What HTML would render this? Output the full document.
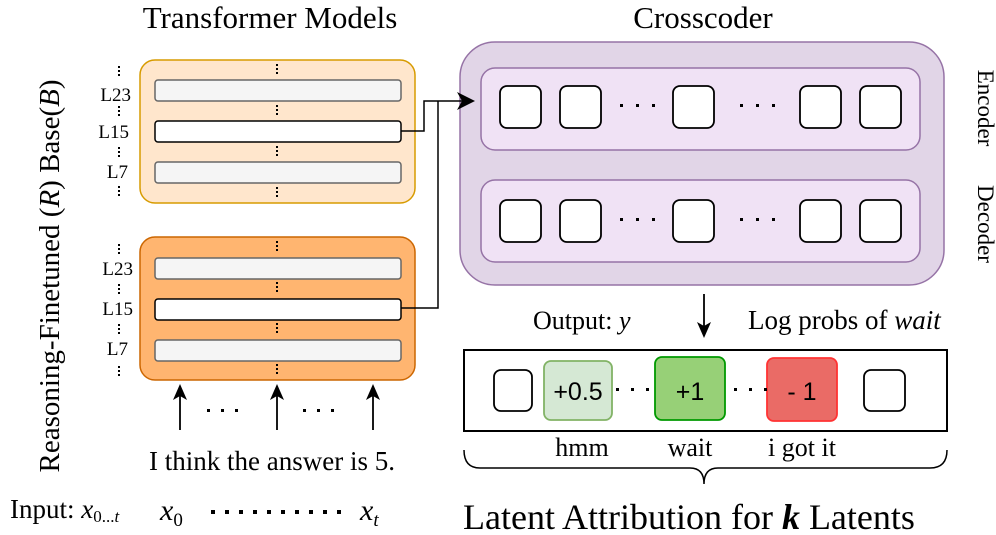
<!DOCTYPE html>
<html><head><style>body{margin:0;background:#fff}svg{display:block}</style></head><body>
<svg width="996" height="535" viewBox="0 0 996 535" xmlns="http://www.w3.org/2000/svg" font-family="Liberation Serif, serif">
<text x="270" y="28" font-size="31" text-anchor="middle">Transformer Models</text>
<text x="703" y="28" font-size="31" text-anchor="middle">Crosscoder</text>
<text transform="translate(59,276) rotate(-90)" font-size="29" text-anchor="middle">Reasoning-Finetuned (<tspan font-style="italic">R</tspan>)   Base(<tspan font-style="italic">B</tspan>)</text>
<!-- base -->
<rect x="140" y="60" width="275" height="143" rx="15" fill="#ffe6cc" stroke="#d79b00" stroke-width="1.5"/>
<rect x="155" y="80" width="246" height="21" rx="3" fill="#f5f5f5" stroke="#666" stroke-width="1.5"/>
<rect x="155" y="121" width="246" height="21" rx="3" fill="#fff" stroke="#000" stroke-width="1.5"/>
<rect x="155" y="162" width="246" height="21" rx="3" fill="#f5f5f5" stroke="#666" stroke-width="1.5"/>
<rect x="140" y="237" width="275" height="143" rx="15" fill="#ffb570" stroke="#cc6600" stroke-width="1.5"/>
<rect x="155" y="258" width="246" height="21" rx="3" fill="#f5f5f5" stroke="#666" stroke-width="1.5"/>
<rect x="155" y="299" width="246" height="21" rx="3" fill="#fff" stroke="#000" stroke-width="1.5"/>
<rect x="155" y="340" width="246" height="21" rx="3" fill="#f5f5f5" stroke="#666" stroke-width="1.5"/>
<g fill="#000">
<defs><g id="vd"><rect x="0" y="0" width="2" height="2"/><rect x="0" y="4" width="2" height="2"/><rect x="0" y="8" width="2" height="2"/></g></defs>
<use href="#vd" x="276" y="64"/><use href="#vd" x="276" y="105"/><use href="#vd" x="276" y="146"/><use href="#vd" x="276" y="187"/>
<use href="#vd" x="276" y="241"/><use href="#vd" x="276" y="282"/><use href="#vd" x="276" y="323"/><use href="#vd" x="276" y="364"/>
<use href="#vd" x="118" y="66"/><use href="#vd" x="118" y="106"/><use href="#vd" x="118" y="147"/><use href="#vd" x="118" y="186"/>
<use href="#vd" x="118" y="244"/><use href="#vd" x="118" y="284"/><use href="#vd" x="118" y="324"/><use href="#vd" x="118" y="366"/>
</g>
<g font-size="19" text-anchor="end">
<text x="131" y="101">L23</text><text x="129" y="138">L15</text><text x="128" y="178">L7</text>
<text x="133" y="275">L23</text><text x="133" y="315">L15</text><text x="128" y="355">L7</text>
</g>
<!-- crosscoder -->
<rect x="460" y="42" width="484" height="243" rx="35" fill="#e1d5e7" stroke="#9673a6" stroke-width="1.5"/>
<rect x="481" y="68" width="439" height="82" rx="14" fill="#f0e2f5" stroke="#9673a6" stroke-width="1.5"/>
<rect x="481" y="180" width="439" height="82" rx="14" fill="#f0e2f5" stroke="#9673a6" stroke-width="1.5"/>
<!-- connectors -->
<polyline points="401,131 424,131 424,101 462,101" fill="none" stroke="#000" stroke-width="1.5"/>
<polyline points="401,308 438,308 438,101" fill="none" stroke="#000" stroke-width="1.5"/>
<polygon points="475,101 457,92 462,101 457,110" fill="#000"/>
<g fill="#fff" stroke="#000" stroke-width="1.8">
<rect x="500" y="86" width="41" height="42" rx="7"/><rect x="560" y="86" width="41" height="42" rx="7"/><rect x="673" y="86" width="41" height="42" rx="7"/><rect x="800" y="86" width="41" height="42" rx="7"/><rect x="860" y="86" width="41" height="42" rx="7"/>
<rect x="500" y="200" width="41" height="42" rx="7"/><rect x="560" y="200" width="41" height="42" rx="7"/><rect x="673" y="200" width="41" height="42" rx="7"/><rect x="800" y="200" width="41" height="42" rx="7"/><rect x="860" y="200" width="41" height="42" rx="7"/>
</g>
<g fill="#000">
<g id="hd"><rect x="620" y="104" width="3" height="3"/><rect x="636" y="104" width="3" height="3"/><rect x="652" y="104" width="3" height="3"/></g>
<use href="#hd" x="120"/><use href="#hd" y="114"/><use href="#hd" x="120" y="114"/>
</g>
<text transform="translate(978,108) rotate(90)" font-size="23" text-anchor="middle">Encoder</text>
<text transform="translate(978,224) rotate(90)" font-size="23" text-anchor="middle">Decoder</text>
<!-- output -->
<line x1="704" y1="294" x2="704" y2="328" stroke="#000" stroke-width="1.8"/>
<polygon points="704,338 697,322 704,326 711,322" fill="#000"/>
<text x="533" y="329" font-size="26">Output: <tspan font-style="italic">y</tspan></text>
<text x="748" y="329" font-size="27">Log probs of <tspan font-style="italic">wait</tspan></text>
<rect x="464" y="350" width="483" height="81" fill="#fff" stroke="#000" stroke-width="2"/>
<rect x="494" y="370" width="38" height="41" rx="7" fill="#fff" stroke="#000" stroke-width="1.8"/>
<rect x="864" y="370" width="41" height="41" rx="7" fill="#fff" stroke="#000" stroke-width="1.8"/>
<rect x="544" y="361" width="68" height="59" rx="7" fill="#d5e8d4" stroke="#82b366" stroke-width="1.8"/>
<rect x="655" y="357" width="70" height="63" rx="7" fill="#97d077" stroke="#009900" stroke-width="1.8"/>
<rect x="767" y="358" width="70" height="63" rx="7" fill="#ea6b66" stroke="#ff3333" stroke-width="1.8"/>
<g fill="#000"><rect x="616" y="388" width="3" height="3"/><rect x="631" y="388" width="3" height="3"/><rect x="646" y="388" width="3" height="3"/>
<rect x="734" y="388" width="3" height="3"/><rect x="749" y="388" width="3" height="3"/><rect x="764" y="388" width="3" height="3"/></g>
<g font-family="Liberation Sans, sans-serif" font-size="25" text-anchor="middle">
<text x="578" y="400">+0.5</text><text x="690" y="400">+1</text><text x="802" y="400">- 1</text></g>
<g font-size="26" text-anchor="middle"><text x="582" y="456">hmm</text><text x="690" y="456">wait</text><text x="802" y="456">i got it</text></g>
<path d="M464,450 Q464,468 480,468 L690,468 Q704,468 704,484 Q704,468 718,468 L930,468 Q947,468 947,450" fill="none" stroke="#000" stroke-width="1.5"/>
<text x="463" y="529" font-size="36">Latent Attribution for <tspan font-style="italic" font-weight="bold">k</tspan> Latents</text>
<!-- input -->
<g stroke="#000" stroke-width="1.8"><line x1="180" y1="430" x2="180" y2="392"/><line x1="277" y1="430" x2="277" y2="392"/><line x1="373" y1="430" x2="373" y2="392"/></g>
<g fill="#000"><polygon points="180,384 173,400 180,396 187,400"/><polygon points="277,384 270,400 277,396 284,400"/><polygon points="373,384 366,400 373,396 380,400"/>
<rect x="207" y="409" width="3" height="3"/><rect x="221" y="409" width="3" height="3"/><rect x="235" y="409" width="3" height="3"/>
<rect x="303" y="409" width="3" height="3"/><rect x="317" y="409" width="3" height="3"/><rect x="331" y="409" width="3" height="3"/>
<rect x="211" y="510" width="4" height="4"/><rect x="225" y="510" width="4" height="4"/><rect x="239" y="510" width="4" height="4"/><rect x="253" y="510" width="4" height="4"/><rect x="267" y="510" width="4" height="4"/><rect x="281" y="510" width="4" height="4"/><rect x="295" y="510" width="4" height="4"/><rect x="309" y="510" width="4" height="4"/><rect x="323" y="510" width="4" height="4"/><rect x="337" y="510" width="4" height="4"/></g>
<text x="272" y="470" font-size="27" text-anchor="middle">I think the answer is 5.</text>
<text x="10" y="518" font-size="27">Input: <tspan font-style="italic">x</tspan><tspan font-size="17" dy="4">0...<tspan font-style="italic">t</tspan></tspan></text>
<text x="160" y="520" font-size="30" font-style="italic">x<tspan font-size="19" font-style="normal" dy="6">0</tspan></text>
<text x="360" y="520" font-size="30" font-style="italic">x<tspan font-size="19" dy="6">t</tspan></text>
</svg>
</body></html>
